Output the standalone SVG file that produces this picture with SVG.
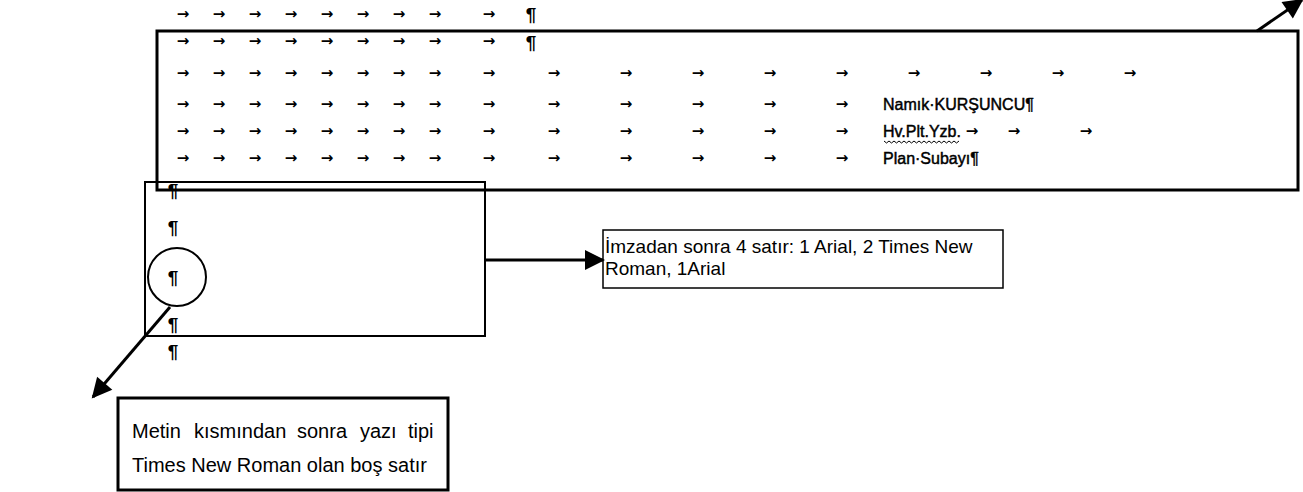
<svg xmlns="http://www.w3.org/2000/svg" width="1303" height="492" viewBox="0 0 1303 492">
<defs>
<style>
.tab{font-family:"DejaVu Sans",sans-serif;font-size:15px;font-weight:bold;fill:#000;text-anchor:middle}
.pil{font-family:"Liberation Sans",Arial,sans-serif;font-size:19px;font-weight:bold;fill:#000;text-anchor:middle}
.t{font-family:"Liberation Sans",Arial,sans-serif;fill:#000}
.sig{font-family:"Liberation Sans",Arial,sans-serif;font-size:16px;fill:#000;stroke:#000;stroke-width:0.45}
.box{fill:none;stroke:#000}
.ln{fill:none;stroke:#000;stroke-width:3}
</style>
<marker id="ah" viewBox="0 0 10 10" refX="9" refY="5" markerWidth="24" markerHeight="20" markerUnits="userSpaceOnUse" orient="auto">
<path d="M0,0 L10,5 L0,10 z" fill="#000"/>
</marker>
<clipPath id="cut"><rect x="500" y="35" width="60" height="30"/></clipPath>
</defs>
<rect width="1303" height="492" fill="#fff"/>

<g id="signature-block">
<rect class="box" x="157" y="31" width="1141" height="159" stroke-width="3"/>
<g class="tab">
<text y="19"><tspan x="183">→</tspan><tspan x="219">→</tspan><tspan x="255">→</tspan><tspan x="291">→</tspan><tspan x="327">→</tspan><tspan x="363">→</tspan><tspan x="399">→</tspan><tspan x="435">→</tspan><tspan x="489">→</tspan></text>
<text y="46"><tspan x="183">→</tspan><tspan x="219">→</tspan><tspan x="255">→</tspan><tspan x="291">→</tspan><tspan x="327">→</tspan><tspan x="363">→</tspan><tspan x="399">→</tspan><tspan x="435">→</tspan><tspan x="489">→</tspan></text>
<text y="78"><tspan x="183">→</tspan><tspan x="219">→</tspan><tspan x="255">→</tspan><tspan x="291">→</tspan><tspan x="327">→</tspan><tspan x="363">→</tspan><tspan x="399">→</tspan><tspan x="435">→</tspan><tspan x="489">→</tspan><tspan x="554">→</tspan><tspan x="626">→</tspan><tspan x="698">→</tspan><tspan x="770">→</tspan><tspan x="842">→</tspan><tspan x="914">→</tspan><tspan x="986">→</tspan><tspan x="1058">→</tspan><tspan x="1130">→</tspan></text>
<text y="109"><tspan x="183">→</tspan><tspan x="219">→</tspan><tspan x="255">→</tspan><tspan x="291">→</tspan><tspan x="327">→</tspan><tspan x="363">→</tspan><tspan x="399">→</tspan><tspan x="435">→</tspan><tspan x="489">→</tspan><tspan x="554">→</tspan><tspan x="626">→</tspan><tspan x="698">→</tspan><tspan x="770">→</tspan><tspan x="842">→</tspan></text>
<text y="136"><tspan x="183">→</tspan><tspan x="219">→</tspan><tspan x="255">→</tspan><tspan x="291">→</tspan><tspan x="327">→</tspan><tspan x="363">→</tspan><tspan x="399">→</tspan><tspan x="435">→</tspan><tspan x="489">→</tspan><tspan x="554">→</tspan><tspan x="626">→</tspan><tspan x="698">→</tspan><tspan x="770">→</tspan><tspan x="842">→</tspan><tspan x="972">→</tspan><tspan x="1014">→</tspan><tspan x="1086">→</tspan></text>
<text y="163"><tspan x="183">→</tspan><tspan x="219">→</tspan><tspan x="255">→</tspan><tspan x="291">→</tspan><tspan x="327">→</tspan><tspan x="363">→</tspan><tspan x="399">→</tspan><tspan x="435">→</tspan><tspan x="489">→</tspan><tspan x="554">→</tspan><tspan x="626">→</tspan><tspan x="698">→</tspan><tspan x="770">→</tspan><tspan x="842">→</tspan></text>
</g>
<text class="pil" x="531" y="21">¶</text>
<text class="pil" x="531" y="49" clip-path="url(#cut)">¶</text>
<text class="sig" x="883" y="110">Namık·KURŞUNCU¶</text>
<text class="sig" x="883" y="137">Hv.Plt.Yzb.</text>
<path d="M884,141 l2.5,2 l2.5,-2 l2.5,2 l2.5,-2 l2.5,2 l2.5,-2 l2.5,2 l2.5,-2 l2.5,2 l2.5,-2 l2.5,2 l2.5,-2 l2.5,2 l2.5,-2 l2.5,2 l2.5,-2 l2.5,2 l2.5,-2 l2.5,2 l2.5,-2 l2.5,2 l2.5,-2 l2.5,2 l2.5,-2 l2.5,2 l2.5,-2 l2.5,2 l2.5,-2 l2.5,2 l2.5,-2" fill="none" stroke="#000" stroke-width="1"/>
<text class="sig" x="883" y="164">Plan·Subayı¶</text>
</g>

<g id="blank-lines-box">
<rect class="box" x="145" y="182" width="340" height="154" stroke-width="2"/>
<circle class="box" cx="177" cy="277" r="29" stroke-width="2"/>
<text class="pil" x="173" y="197">¶</text>
<text class="pil" x="173" y="234">¶</text>
<text class="pil" x="173" y="284">¶</text>
<text class="pil" x="173" y="331">¶</text>
<text class="pil" x="173" y="358">¶</text>
</g>

<g id="note-right">
<rect class="box" x="603" y="230" width="400" height="58" stroke-width="1.5"/>
<text class="t" x="605" y="253" font-size="19">İmzadan sonra 4 satır: 1 Arial, 2 Times New</text>
<text class="t" x="605" y="275" font-size="19">Roman, 1Arial</text>
</g>

<g id="note-bottom">
<rect class="box" x="118" y="398" width="330" height="92" stroke-width="3"/>
<text class="t" y="438" font-size="20"><tspan x="132">Metin</tspan><tspan x="194">kısmından</tspan><tspan x="297">sonra</tspan><tspan x="360">yazı</tspan><tspan x="408">tipi</tspan></text>
<text class="t" x="132" y="472" font-size="20">Times New Roman olan boş satır</text>
</g>

<g id="connectors">
<line class="ln" x1="486" y1="260" x2="603" y2="260" marker-end="url(#ah)"/>
<line class="ln" x1="170" y1="307" x2="93" y2="397" marker-end="url(#ah)"/>
<line class="ln" x1="1257" y1="31" x2="1302" y2="0" marker-end="url(#ah)"/>
</g>
</svg>
